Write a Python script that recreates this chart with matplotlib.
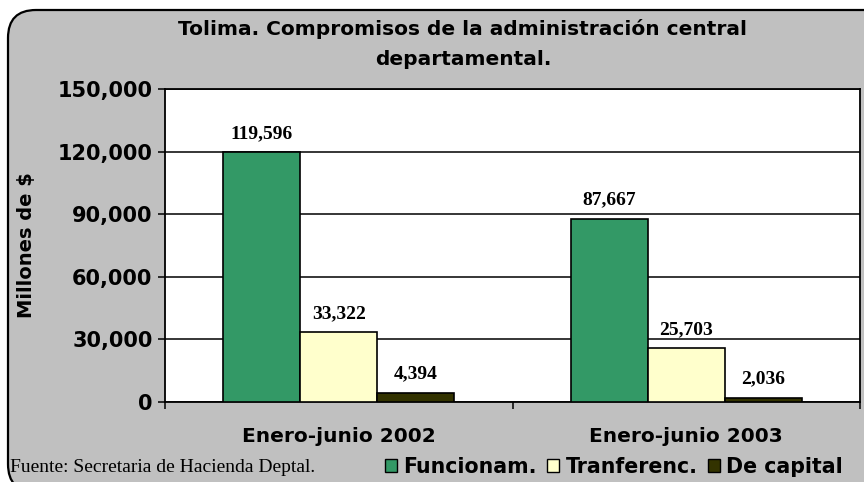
import matplotlib
matplotlib.use("Agg")
import matplotlib.pyplot as plt
from matplotlib.patches import FancyBboxPatch, Patch
import numpy as np

categories = ["Enero-junio 2002", "Enero-junio 2003"]
series_names = ["Funcionam.", "Tranferenc.", "De capital"]
funcionam = [119596, 87667]
tranferenc = [33322, 25703]
de_capital = [4394, 2036]
yticks = [0, 30000, 60000, 90000, 120000, 150000]
title = "Tolima. Compromisos de la administración central\ndepartamental."
ylabel = "Millones de $"
source = "Fuente: Secretaria de Hacienda Deptal."

colors = ["#339966", "#FFFFCC", "#333300"]
W, H = 864, 482
fig = plt.figure(figsize=(W / 100, H / 100), dpi=100, facecolor="white")

# rounded grey background
bg = FancyBboxPatch((0.08, -0.10), 9.2, 4.72 + 0.10, boxstyle="round,pad=0,rounding_size=0.28",
                    transform=fig.dpi_scale_trans, facecolor="#C0C0C0", edgecolor="black",
                    linewidth=1.6, zorder=-5)
fig.add_artist(bg)

ax = fig.add_axes([165 / W, 1 - 402 / H, (860 - 165) / W, (402 - 89) / H])
ax.set_zorder(2)
ax.set_facecolor("white")

x = np.arange(len(categories))
bw = 0.222
all_series = [funcionam, tranferenc, de_capital]
for i, (vals, c, name) in enumerate(zip(all_series, colors, series_names)):
    pos = x + (i - 1) * bw
    ax.bar(pos, vals, width=bw, color=c, edgecolor="black", linewidth=1.2, label=name, zorder=3)
    for p, v in zip(pos, vals):
        ax.text(p, v + 5000, f"{v:,}", ha="center", va="bottom", fontsize=14,
                fontweight="bold", family="Liberation Serif", zorder=4)

ax.set_ylim(0, 150000)
ax.set_xlim(-0.5, 1.5)
ax.set_yticks(yticks)
ax.set_yticklabels([f"{t:,}" for t in yticks], fontsize=15, fontweight="bold")
ax.yaxis.grid(True, color="black", linewidth=1.1, zorder=1)
ax.set_axisbelow(True)
ax.tick_params(axis="y", length=5, width=1.1, pad=4, direction="out")
ax.set_xticks(x)
ax.set_xticklabels(categories, fontsize=14.5, fontweight="bold")
ax.tick_params(axis="x", which="major", length=0, pad=18)
ax.set_xticks([-0.5, 0.5, 1.5], minor=True)
ax.tick_params(axis="x", which="minor", length=5, width=1.1, direction="out")
for s in ax.spines.values():
    s.set_linewidth(1.3)
    s.set_color("black")

ax.set_ylabel(ylabel, fontsize=14, fontweight="bold")
ax.yaxis.set_label_coords(-0.186, 0.5)

fig.text(463 / W, 1 - 44 / H, title, ha="center", va="center", fontsize=14.5,
         fontweight="bold", linespacing=1.75)

fig.text(10 / W, 1 - 467 / H, source, ha="left", va="center", fontsize=14,
         family="Liberation Serif")

handles = [Patch(facecolor=c, edgecolor="black", linewidth=1.0) for c in colors]
leg = fig.legend(handles, series_names, loc="center", bbox_to_anchor=(614 / W, 1 - 467 / H),
                 ncol=3, frameon=False, prop={"weight": "bold", "size": 14.8},
                 handlelength=0.6, handleheight=0.6, handletextpad=0.3, columnspacing=0.5,
                 borderpad=0)

fig.savefig("out.png", dpi=100, facecolor="white")
